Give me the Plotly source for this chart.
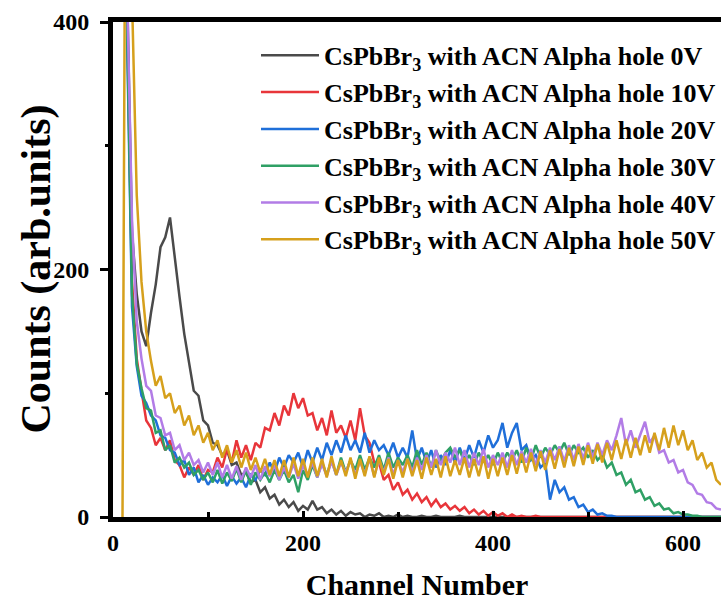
import plotly.graph_objects as go

channels = list(range(10, 645, 5))

counts_0V = [900, 420, 230, 180, 150, 138, 165, 188, 218, 226, 242, 208, 178, 148, 124, 102, 98, 78, 74, 60,
             58, 50, 54, 42, 44, 34, 36, 28, 30, 20, 24, 15, 18, 10, 14, 8, 12, 5, 9, 6,
             13, 6, 8, 3, 6, 2, 5, 1, 4, 2, 3, 0, 2, 1, 3, 0, 1, 0, 2, 0,
             1, 0, 0, 1, 0, 0, 1, 0, 0, 0, 0, 1, 0, 0, 0, 0, 0, 0, 0, 0,
             0, 0, 0, 0, 0, 0, 0, 0, 0, 0, 0, 0, 0, 0, 0, 0, 0, 0, 0, 0,
             0, 0, 0, 0, 0, 0, 0, 0, 0, 0, 0, 0, 0, 0, 0, 0, 0, 0, 0, 0,
             0, 0, 0, 0, 0, 0, 0]

counts_10V = [900, 400, 190, 128, 102, 78, 72, 58, 64, 54, 62, 46, 42, 32, 40, 34, 42, 30, 38, 36,
              48, 40, 55, 44, 62, 48, 58, 46, 60, 56, 72, 70, 84, 74, 90, 82, 100, 88, 96, 82,
              84, 70, 80, 66, 86, 68, 74, 64, 78, 62, 88, 66, 60, 44, 44, 30, 34, 22, 28, 18,
              22, 14, 19, 12, 16, 9, 14, 8, 11, 6, 9, 5, 8, 3, 6, 2, 5, 1, 4, 1,
              3, 0, 2, 0, 1, 0, 0, 1, 0, 0, 0, 0, 0, 0, 0, 0, 0, 0, 0, 0,
              0, 0, 0, 0, 0, 0, 0, 0, 0, 0, 0, 0, 0, 0, 0, 0, 0, 0, 0, 0,
              0, 0, 0, 0, 0, 0, 0]

counts_20V = [900, 380, 170, 122, 98, 92, 82, 78, 66, 64, 54, 52, 42, 46, 34, 40, 28, 34, 26, 32,
              28, 34, 25, 33, 27, 32, 24, 34, 30, 38, 34, 44, 36, 48, 40, 50, 44, 52, 40, 54,
              44, 56, 46, 60, 50, 62, 52, 66, 54, 62, 52, 68, 52, 62, 54, 58, 50, 60, 48, 56,
              48, 70, 46, 56, 44, 54, 40, 50, 42, 54, 44, 56, 46, 58, 48, 62, 52, 66, 56, 62,
              76, 56, 68, 76, 54, 58, 46, 50, 40, 44, 14, 30, 20, 24, 14, 16, 8, 10, 4, 6,
              2, 3, 1, 1, 0, 0, 0, 0, 0, 0, 0, 0, 0, 0, 0, 0, 0, 0, 0, 0,
              0, 0, 0, 0, 0, 0, 0]

counts_30V = [900, 390, 180, 124, 104, 88, 86, 68, 70, 54, 58, 44, 48, 40, 44, 34, 38, 30, 36, 28,
              38, 27, 36, 29, 39, 28, 38, 26, 36, 30, 36, 28, 38, 30, 38, 28, 34, 20, 38, 30,
              42, 32, 44, 34, 46, 34, 48, 36, 46, 38, 50, 38, 48, 40, 50, 38, 52, 40, 48, 42,
              50, 40, 54, 42, 52, 40, 54, 44, 52, 56, 48, 54, 44, 50, 42, 52, 44, 50, 42, 52,
              44, 52, 46, 54, 44, 56, 46, 58, 48, 56, 50, 58, 52, 60, 50, 58, 52, 56, 48, 54,
              46, 50, 40, 44, 34, 36, 26, 30, 20, 22, 14, 16, 9, 11, 6, 7, 3, 4, 2, 2,
              1, 1, 0, 0, 0, 0, 0]

counts_40V = [900, 420, 240, 158, 128, 106, 102, 82, 80, 66, 68, 54, 58, 46, 52, 42, 46, 36, 44, 34,
              44, 32, 42, 31, 41, 30, 40, 32, 42, 30, 41, 33, 42, 30, 40, 32, 43, 31, 42, 34,
              44, 32, 43, 33, 45, 34, 44, 36, 46, 34, 45, 35, 47, 33, 46, 36, 48, 34, 46, 36,
              47, 36, 48, 38, 50, 40, 54, 42, 52, 44, 56, 42, 54, 40, 52, 42, 55, 40, 50, 42,
              52, 40, 54, 42, 53, 44, 55, 42, 54, 44, 56, 46, 57, 45, 58, 46, 59, 47, 60, 48,
              60, 50, 62, 54, 66, 80, 58, 70, 56, 66, 77, 60, 66, 52, 54, 44, 46, 36, 38, 28,
              26, 19, 18, 12, 11, 7, 6]

counts_50V = [0, 900, 420, 260, 190, 150, 126, 106, 114, 96, 100, 84, 90, 74, 82, 66, 74, 60, 68, 54,
              62, 48, 58, 44, 54, 40, 52, 38, 48, 36, 47, 34, 46, 33, 46, 32, 48, 33, 47, 32,
              48, 33, 47, 32, 49, 34, 46, 33, 48, 31, 47, 33, 49, 32, 48, 34, 47, 31, 46, 32,
              47, 33, 46, 31, 48, 34, 47, 32, 49, 33, 46, 34, 48, 32, 47, 33, 49, 31, 47, 33,
              48, 34, 50, 35, 51, 36, 52, 37, 53, 38, 54, 39, 55, 40, 56, 41, 57, 42, 58, 43,
              59, 44, 60, 46, 62, 47, 63, 48, 64, 50, 66, 52, 68, 54, 72, 56, 74, 58, 70, 54,
              62, 46, 52, 40, 44, 30, 26]

series_names = [
    "CsPbBr<sub>3</sub> with ACN Alpha hole 0V",
    "CsPbBr<sub>3</sub> with ACN Alpha hole 10V",
    "CsPbBr<sub>3</sub> with ACN Alpha hole 20V",
    "CsPbBr<sub>3</sub> with ACN Alpha hole 30V",
    "CsPbBr<sub>3</sub> with ACN Alpha hole 40V",
    "CsPbBr<sub>3</sub> with ACN Alpha hole 50V",
]
series_values = [counts_0V, counts_10V, counts_20V, counts_30V, counts_40V, counts_50V]
colors = ["#4a4a4a", "#e8353a", "#1f6fd9", "#2fa065", "#b27ce6", "#d6a01c"]

SERIF = "Liberation Serif"

fig = go.Figure()
for name, vals, col in zip(series_names, series_values, colors):
    fig.add_trace(go.Scatter(x=channels, y=vals, mode="lines", name=name,
                             line=dict(color=col, width=2.5)))

fig.update_layout(
    width=721, height=601,
    margin=dict(l=113, r=0, t=22, b=84),
    paper_bgcolor="white", plot_bgcolor="white",
    showlegend=True,
    legend=dict(x=1.0, xanchor="right", y=0.98, yanchor="top",
                bgcolor="rgba(0,0,0,0)",
                font=dict(family=SERIF, size=26, color="black", weight="bold"),
                itemwidth=58, tracegroupgap=0),
    font=dict(family=SERIF, color="black"),
    annotations=[dict(text="Counts (arb.units)", textangle=-90,
                      xref="paper", yref="paper", x=-0.1266, y=0.5,
                      xanchor="center", yanchor="middle", showarrow=False,
                      font=dict(family=SERIF, size=42, color="black", weight="bold"))],
)
fig.update_xaxes(
    range=[0, 640], showgrid=False, zeroline=False,
    showline=True, linecolor="black", linewidth=5, mirror=True,
    tickvals=[0, 200, 400, 600], ticks="inside", ticklen=6, tickwidth=3, tickcolor="black",
    minor=dict(tickvals=[100, 300, 500], ticks="inside", ticklen=5, tickwidth=3, tickcolor="black"),
    tickfont=dict(family=SERIF, size=24, color="black", weight="bold"),
    title=dict(text="Channel Number", font=dict(family=SERIF, size=30, color="black", weight="bold"),
               standoff=22),
)
fig.update_yaxes(
    range=[0, 400], showgrid=False, zeroline=False,
    showline=True, linecolor="black", linewidth=5, mirror=False,
    tickvals=[0, 200, 400], ticks="outside", ticklen=8, tickwidth=3, tickcolor="black",
    minor=dict(tickvals=[100, 300], ticks="outside", ticklen=3, tickwidth=3, tickcolor="black"),
    tickfont=dict(family=SERIF, size=24, color="black", weight="bold"),
    ticklabelstandoff=6,
)

fig.write_html("out.html")
